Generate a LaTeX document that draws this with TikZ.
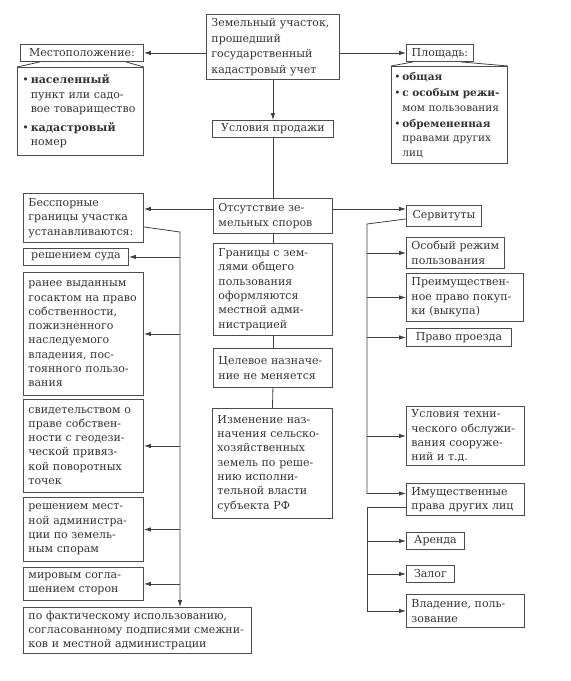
\documentclass[tikz,border=0pt]{standalone}
\usepackage{fontspec}
\setmainfont{DejaVu Serif}
\usepackage{tikz}
\usetikzlibrary{arrows.meta,positioning,calc}

\newcommand{\boxfont}{\fontsize{11}{14.3}\selectfont}
\newcommand{\bulx}{\textbullet\,}
\newcommand{\bulind}{\hphantom{\textbullet\,}}

\tikzset{
    box/.style={draw=black!70, line width=0.9pt, anchor=north west, inner xsep=5pt, inner ysep=2pt,
        align=left, text=black!80, font=\boxfont},
    line/.style={draw=black!75, line width=0.8pt},
    arr/.style={line, -{Latex[length=7pt,width=4.5pt]}}
}

\begin{document}
\begin{tikzpicture}[x=1pt,y=-1pt]
    \useasboundingbox (0,0) rectangle (571,681);

    % Top node
    \node[box, text width=123pt, minimum height=65pt, font=\fontsize{11}{15.5}\selectfont] (top) at (206,14)
        {Земельный участок,\\прошедший\\государственный\\кадастровый учет};

    % Location
    \node[box, minimum width=123pt, minimum height=17pt, align=center] (mestoH) at (20,44) {Местоположение:};
    \node[box, text width=116pt, minimum height=88pt] (mestoB) at (17,67)
        {\bulx\textbf{населенный}\\\bulind пункт или садо-\\\bulind вое товарищество\\[5pt]
         \bulx\textbf{кадастровый}\\\bulind номер};

    % Area
    \node[box, minimum width=67pt, minimum height=17pt, inner xsep=2pt, align=center] (ploH) at (406,44) {Площадь:};
    \node[box, text width=110pt, inner xsep=3pt, minimum height=97pt, font=\fontsize{10.5}{14.3}\selectfont] (ploB) at (391,66)
        {\bulx\textbf{общая}\\[2pt]\mbox{\bulx\textbf{с особым режи-}}\\\bulind мом пользования\\[2pt]
         \bulx\textbf{обремененная}\\\bulind правами других\\\bulind лиц};

    % Middle column
    \node[box, minimum width=121pt, minimum height=17pt, align=center] (usl) at (212,120) {Условия продажи};
    \node[box, text width=109pt, minimum height=35pt] (ots) at (213,198) {Отсутствие зе-\\мельных споров};
    \node[box, text width=109pt, minimum height=92pt] (gran) at (213,243)
        {Границы с зем-\\лями общего\\пользования\\оформляются\\местной адми-\\нистрацией};
    \node[box, text width=109pt, minimum height=39pt] (cel) at (213,348) {Целевое назначе-\\ние не меняется};
    \node[box, text width=110pt, minimum height=110pt] (izm) at (212,408)
        {Изменение наз-\\начения сельско-\\хозяйственных\\земель по реше-\\нию исполни-\\тельной власти\\субъекта РФ};

    % Left column
    \node[box, text width=110pt, minimum height=49pt] (bes) at (23,193)
        {Бесспорные\\границы участка\\устанавливаются:};
    \node[box, minimum width=105pt, minimum height=17pt, align=center] (sud) at (23,248) {решением суда};
    \node[box, text width=110pt, minimum height=123pt] (gos) at (23,272)
        {ранее выданным\\госактом на право\\собственности,\\пожизненного\\наследуемого\\владения, пос-\\тоянного пользо-\\вания};
    \node[box, text width=110pt, minimum height=93pt] (svid) at (23,399)
        {свидетельством о\\праве собствен-\\ности с геодези-\\ческой привяз-\\кой поворотных\\точек};
    \node[box, text width=110pt, minimum height=64pt] (adm) at (23,497)
        {решением мест-\\ной администра-\\ции по земель-\\ным спорам};
    \node[box, text width=110pt, minimum height=33pt] (mir) at (23,567) {мировым согла-\\шением сторон};
    \node[box, text width=218pt, minimum height=46pt] (fakt) at (23,607)
        {по фактическому использованию,\\согласованному подписями смежни-\\ков и местной администрации};

    % Right column
    \node[box, minimum width=75pt, minimum height=21pt, align=center] (serv) at (406,205) {Сервитуты};
    \node[box, text width=88pt, minimum height=31pt] (osob) at (406,237) {Особый режим\\пользования};
    \node[box, text width=107pt, minimum height=48pt] (preim) at (406,273)
        {Преимуществен-\\ное право покуп-\\ки (выкупа)};
    \node[box, minimum width=105pt, minimum height=18pt, align=center] (proezd) at (406,328) {Право проезда};
    \node[box, text width=108pt, minimum height=59pt] (tex) at (406,406)
        {Условия техни-\\ческого обслужи-\\вания сооруже-\\ний и т.д.};
    \node[box, text width=108pt, minimum height=32pt] (imu) at (406,483) {Имущественные\\права других лиц};
    \node[box, minimum width=58pt, minimum height=17pt, align=center] (arenda) at (406,532) {Аренда};
    \node[box, minimum width=48pt, minimum height=17pt, align=center] (zalog) at (406,565) {Залог};
    \node[box, text width=108pt, minimum height=33pt] (vlad) at (406,594) {Владение, поль-\\зование};

    % Top connectors
    \draw[arr] (mestoH.east -| top.west) -- (mestoH.east);
    \draw[arr] (ploH.west -| top.east) -- (ploH.west);
    \draw[line] ([xshift=20pt]mestoH.south west) -- (mestoB.north west);
    \draw[line] ([xshift=-18pt]mestoH.south east) -- (mestoB.north east);
    \draw[line] ([xshift=7pt]ploH.south west) -- (ploB.north west);
    \draw[line] ([xshift=-13pt]ploH.south east) -- (ploB.north east);

    % Middle chain
    \draw[arr] (top.south) -- (usl.north);
    \draw[line] (usl.south) -- (ots.north);
    \draw[line] (ots.south) -- (gran.north);
    \draw[line] (gran.south) -- (cel.north);
    \draw[line] (cel.south) -- (izm.north);

    % Left branch
    \draw[arr] ([yshift=7pt]ots.west) coordinate (o1) -- (o1 -| bes.east);
    \coordinate (lt) at (180,232);
    \draw[arr] ([yshift=-9pt]bes.east) -- (lt) -- (lt |- fakt.north);
    \foreach \n in {sud,gos,svid,adm,mir}
        \draw[arr] (lt |- \n.east) -- (\n.east);

    % Right branch
    \draw[arr] ([yshift=7pt]ots.east) coordinate (o2) -- (o2 -| serv.west);
    \coordinate (rt) at (367,224);
    \draw[arr] ([yshift=-3pt]serv.west) -- (rt) |- ([yshift=6pt]imu.west);
    \foreach \n in {osob,preim,proezd,tex}
        \draw[arr] (rt |- \n.west) -- (\n.west);
    \draw[arr] ([yshift=-8pt]imu.west) -- ++(-39,0) coordinate (st) |- (vlad.west);
    \foreach \n in {arenda,zalog}
        \draw[arr] (st |- \n.west) -- (\n.west);
\end{tikzpicture}
\end{document}
